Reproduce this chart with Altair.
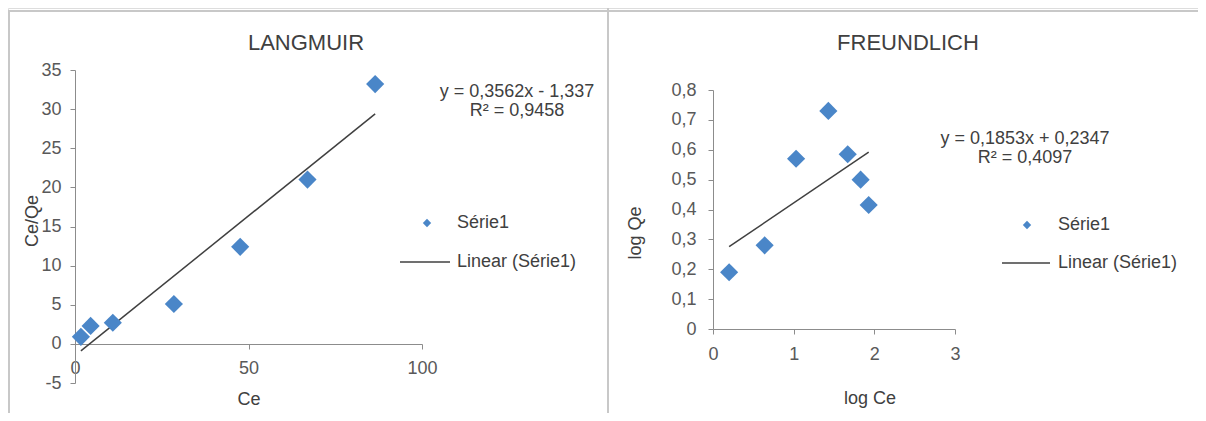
import altair as alt
import pandas as pd

# ---------------- data ----------------
ce = [1.7, 4.5, 10.9, 28.5, 47.6, 67.0, 86.5]
ce_qe = [0.9, 2.3, 2.7, 5.1, 12.4, 21.0, 33.2]

log_ce = [0.20, 0.64, 1.03, 1.43, 1.67, 1.83, 1.93]
log_qe = [0.19, 0.28, 0.57, 0.73, 0.585, 0.50, 0.415]

lang_y_ticks = [-5, 0, 5, 10, 15, 20, 25, 30, 35]
lang_x_ticks = [0, 50, 100]
freu_y_ticks = [0, 0.1, 0.2, 0.3, 0.4, 0.5, 0.6, 0.7, 0.8]
freu_x_ticks = [0, 1, 2, 3]

titles = ["LANGMUIR", "FREUNDLICH"]
eq_lang = ["y = 0,3562x - 1,337", "R\u00b2 = 0,9458"]
eq_freu = ["y = 0,1853x + 0,2347", "R\u00b2 = 0,4097"]
legend_labels = ["S\u00e9rie1", "Linear (S\u00e9rie1)"]
axis_titles = ["Ce/Qe", "Ce", "log Qe", "log Ce"]

FONT = "Liberation Sans"
BLUE = "#4A86C8"
LINE = "#404040"
TXT = "#404040"
LBL = "#595959"
AX = "#8C8C8C"
W, H = 1190, 405

lang_df = pd.DataFrame({"Ce": ce, "CeQe": ce_qe})
freu_df = pd.DataFrame({"logCe": log_ce, "logQe": log_qe})


def axis(orient, offset, values, pad, expr):
    return alt.Axis(orient=orient, offset=offset, values=values, title=None,
                    grid=False, domainColor=AX, tickColor=AX, tickSize=5,
                    labelFont=FONT, labelFontSize=18, labelColor=LBL,
                    labelPadding=pad, labelExpr=expr, labelOverlap=False,
                    labelFlush=False)


# ---------------- Langmuir panel ----------------
lx = alt.X("Ce:Q", scale=alt.Scale(domain=[0, 100], range=[67, 414], nice=False),
           axis=axis("bottom", -69, lang_x_ticks, 10, "'' + datum.value"))
ly = alt.Y("CeQe:Q", scale=alt.Scale(domain=[-5, 35], range=[375, 62], nice=False, zero=False),
           axis=axis("left", -67, lang_y_ticks, 9, "'' + datum.value"))

lang_pts = alt.Chart(lang_df).mark_point(shape="diamond", filled=True, size=330,
                                         color=BLUE, opacity=1).encode(x=lx, y=ly)
lang_fit = alt.Chart(lang_df).transform_regression("Ce", "CeQe").mark_line(
    color=LINE, strokeWidth=1.5).encode(x=alt.X("Ce:Q"), y=alt.Y("CeQe:Q"))
lang = alt.layer(lang_fit, lang_pts)

# ---------------- Freundlich panel ----------------
fx = alt.X("logCe:Q", scale=alt.Scale(domain=[0, 3], range=[705, 947], nice=False),
           axis=axis("bottom", -84, freu_x_ticks, 11, "'' + datum.value"))
fy = alt.Y("logQe:Q", scale=alt.Scale(domain=[0, 0.8], range=[321, 82], nice=False),
           axis=axis("left", -705, freu_y_ticks, 12,
                     "datum.value == 0 ? '0' : replace(format(datum.value, '.1f'), '.', ',')"))

freu_pts = alt.Chart(freu_df).mark_point(shape="diamond", filled=True, size=330,
                                         color=BLUE, opacity=1).encode(x=fx, y=fy)
freu_fit = alt.Chart(freu_df).transform_regression("logCe", "logQe").mark_line(
    color=LINE, strokeWidth=1.5).encode(x=alt.X("logCe:Q"), y=alt.Y("logQe:Q"))
freu = alt.layer(freu_fit, freu_pts)


# ---------------- texts / decorations ----------------
def txt(s, x, y, size=18, align="center", angle=0, color=TXT):
    kw = dict(font=FONT, fontSize=size, align=align, baseline="middle", color=color)
    if angle:
        kw["angle"] = angle
    return alt.Chart(pd.DataFrame({"t": [s]})).mark_text(**kw).encode(
        x=alt.value(x), y=alt.value(y), text="t:N")


def sym(x, y):
    return alt.Chart(pd.DataFrame({"t": [0]})).mark_point(
        shape="diamond", filled=True, size=70, color=BLUE, opacity=1).encode(
        x=alt.value(x), y=alt.value(y))


def hline(x1, x2, y, color=LINE, w=1.5):
    return alt.Chart(pd.DataFrame({"t": [0]})).mark_rule(color=color, strokeWidth=w).encode(
        x=alt.value(x1), x2=alt.value(x2), y=alt.value(y))


def vline(x, y1, y2, color, w):
    return alt.Chart(pd.DataFrame({"t": [0]})).mark_rule(color=color, strokeWidth=w).encode(
        x=alt.value(x), y=alt.value(y1), y2=alt.value(y2))


BORDER = "#C8C8C8"
deco = [
    hline(0, W, 3, BORDER, 2),
    vline(1, 3, H, BORDER, 2),
    vline(600, 0, H, BORDER, 2),
    txt(titles[0], 298, 35, size=22),
    txt(titles[1], 900, 35, size=22),
    txt(axis_titles[0], 25, 213, angle=270),
    txt(axis_titles[1], 241, 392),
    txt(axis_titles[2], 628, 225, angle=270),
    txt(axis_titles[3], 862, 391),
    txt(eq_lang[0], 509, 84),
    txt(eq_lang[1], 509, 103),
    txt(eq_freu[0], 1017, 131),
    txt(eq_freu[1], 1017, 150),
    sym(419, 215),
    txt(legend_labels[0], 449, 215, align="left"),
    hline(392, 442, 254),
    txt(legend_labels[1], 449, 254, align="left"),
    sym(1019, 217),
    txt(legend_labels[0], 1050, 217, align="left"),
    hline(994, 1042, 255),
    txt(legend_labels[1], 1050, 255, align="left"),
]

chart = alt.layer(lang, freu, *deco).resolve_scale(
    x="independent", y="independent"
).properties(
    width=W, height=H, autosize=alt.AutoSizeParams(type="none"), padding=0
).configure_view(stroke=None).configure(background="white")

chart.save("out.html", embed_options={"renderer": "svg", "actions": False})
